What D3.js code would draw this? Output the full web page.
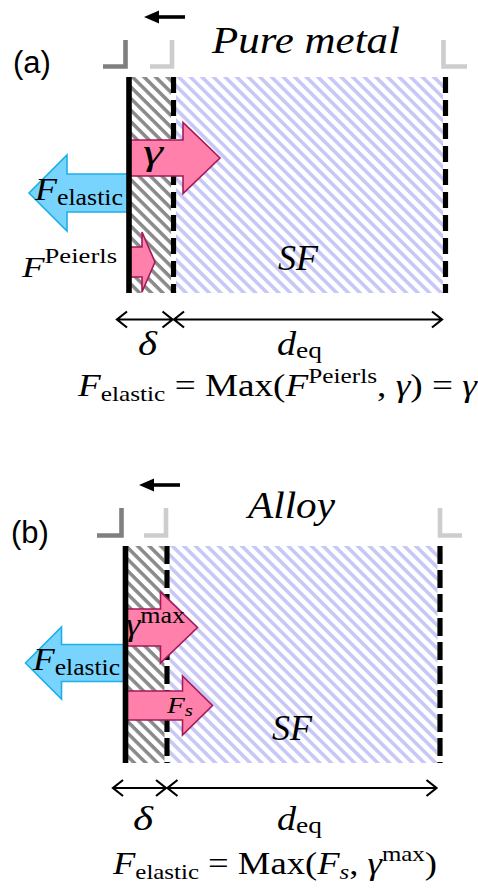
<!DOCTYPE html>
<html>
<head>
<meta charset="utf-8">
<script src="https://cdn.jsdelivr.net/npm/d3@7"></script>
<style>
  html, body { margin: 0; padding: 0; background: #fff; }
  svg { display: block; }
  text { white-space: pre; }
</style>
</head>
<body>
<script>
// ---- content -------------------------------------------------------------
const panelTags = ["(a)", "(b)"];
const panelTitles = ["Pure metal", "Alloy"];

// Forces on the leading partial, relative to the elastic restoring force
const elasticForce = [1.0, 1.0];
const drivingForces = [[0.91, 0.26], [0.72, 0.87]];
const drivingLabels = [
  [[["γ", "i"]], [["F", "i"], ["Peierls", "sup"]]],
  [[["γ", "i"], ["max", "sup"]], [["F", "i"], ["s", "subi"]]]
];
const elasticLabel = [["F", "i"], ["elastic", "sub"]];

// Ribbon segments: core width δ and equilibrium stacking-fault width d_eq (units of δ)
const deltaWidth = [1, 1];
const deqWidth = [6.11, 6.58];
const regionLabel = [["S", "i"], ["F", "i"]];
const deltaLabel = [["δ", "i"]];
const deqLabel = [["d", "i"], ["eq", "sub"]];

const formulas = [
  [["F", "i"], ["elastic", "sub"], [" = Max(", "r"], ["F", "i"], ["Peierls", "sup"], [", ", "r"], ["γ", "i"], [") = ", "r"], ["γ", "i"]],
  [["F", "i"], ["elastic", "sub"], [" = Max(", "r"], ["F", "i"], ["s", "subi"], [", ", "r"], ["γ", "i"], ["max", "sup"], [")", "r"]]
];

// ---- drawing ---------------------------------------------------------------
const W = 478, H = 889;
const SERIF = "'Liberation Serif', 'DejaVu Serif', serif";
const SANS = "'Liberation Sans', Arial, sans-serif";
const PINK = "#ff80aa", PINK_EDGE = "#a3195b";
const BLUE = "#78d4fd", BLUE_EDGE = "#1eaee8";

const svg = d3.select("body").append("svg").attr("width", W).attr("height", H);
const defs = svg.append("defs");

function hatch(id, color, period, stroke) {
  const p = defs.append("pattern").attr("id", id)
    .attr("patternUnits", "userSpaceOnUse")
    .attr("width", period).attr("height", period)
    .attr("patternTransform", "rotate(45)");
  p.append("rect").attr("width", period).attr("height", period).attr("fill", "#fff");
  p.append("rect").attr("y", 0).attr("width", period).attr("height", stroke).attr("fill", color);
}
hatch("hatchCore", "#8a8a8a", 8.2, 3.5);
hatch("hatchSF", "#c8c8f6", 8.2, 3.6);

function mathText(g, parts, o) {
  const t = g.append("text").attr("x", o.x).attr("y", o.y)
    .attr("font-family", SERIF).attr("font-size", o.size).attr("fill", "#000");
  let shift = 0;
  for (const [s, kind] of parts) {
    let target = 0;
    if (kind === "sub" || kind === "subi") target = o.size * (o.sub ?? 0.16);
    if (kind === "sup") target = -o.size * (o.sup ?? 0.46);
    const small = kind !== "i" && kind !== "r";
    t.append("tspan").attr("dy", target - shift)
      .attr("font-size", small ? o.size * (o.scr ?? 0.72) : o.size)
      .attr("font-style", kind === "i" || kind === "subi" ? "italic" : "normal")
      .text(s);
    shift = target;
  }
  if (o.width) t.attr("textLength", o.width).attr("lengthAdjust", "spacingAndGlyphs");
  if (o.anchor) t.attr("text-anchor", o.anchor);
  return t;
}

function blockArrow(x0, tip, cy, sh, hh, hl) {
  const dir = Math.sign(tip - x0);
  const hb = tip - dir * hl;
  const p = d3.path();
  p.moveTo(x0, cy - sh); p.lineTo(hb, cy - sh); p.lineTo(hb, cy - hh);
  p.lineTo(tip, cy); p.lineTo(hb, cy + hh); p.lineTo(hb, cy + sh);
  p.lineTo(x0, cy + sh); p.closePath();
  return p.toString();
}

function dimArrow(g, x0, x1, y) {
  const p = d3.path();
  p.moveTo(x0, y); p.lineTo(x1, y);
  p.moveTo(x0 + 10, y - 8); p.lineTo(x0, y); p.lineTo(x0 + 10, y + 8);
  p.moveTo(x1 - 10, y - 8); p.lineTo(x1, y); p.lineTo(x1 - 10, y + 8);
  g.append("path").attr("d", p.toString()).attr("fill", "none")
    .attr("stroke", "#000").attr("stroke-width", 2.2)
    .attr("stroke-linejoin", "miter").attr("stroke-linecap", "butt");
}

// Per-panel geometry
const layout = [
  {
    top: 77, bottom: 293, wall: 129, right: 445.5, dash: "16 7",
    tag: { x: 13, y: 73 }, title: { x: 212, y: 53, size: 38, w: 188 },
    moveY: 17, moveTip: 144, moveEnd: 185,
    marks: { y0: 40, y1: 66.5, dark: [103, 125.5], light: [150, 172], right: [443.5, 467] },
    forceScale: 100,
    drive: [
      { cy: 158, sh: 18, hh: 35.5, hl: 37, lab: { x: 143, y: 164, size: 36, w: 20 } },
      { cy: 262, sh: 15, hh: 30, hl: 13, lab: { x: 22, y: 277, size: 30, w: 95, sup: 0.47 } }
    ],
    elastic: { cy: 193, sh: 19, hh: 38, hl: 38, lab: { x: 35, y: 200, size: 32, w: 88, sub: 0.16 } },
    sf: { x: 278, y: 270, size: 36, w: 46 },
    dimY: 319.5, dimLeft: 117,
    delta: { x: 138, y: 355, size: 34, w: 19 },
    deq: { x: 277, y: 355, size: 33, w: 45 },
    formula: { x: 78, y: 396, size: 31, w: 399 }
  },
  {
    top: 546, bottom: 763, wall: 125.5, right: 440, dash: "18 6",
    tag: { x: 11, y: 543 }, title: { x: 248, y: 518, size: 37, w: 87 },
    moveY: 485, moveTip: 139, moveEnd: 180,
    marks: { y0: 508, y1: 535.5, dark: [97, 121.5], light: [144, 166], right: [440, 462] },
    forceScale: 100,
    drive: [
      { cy: 627.5, sh: 18.5, hh: 35.5, hl: 37, lab: { x: 126, y: 635, size: 32, w: 59, sup: 0.36 } },
      { cy: 705.5, sh: 14.5, hh: 29.5, hl: 30, lab: { x: 167, y: 713, size: 24, w: 26, sub: 0.13 } }
    ],
    elastic: { cy: 663, sh: 18.5, hh: 36, hl: 36, lab: { x: 33, y: 670, size: 32, w: 87, sub: 0.16 } },
    sf: { x: 272, y: 740, size: 36, w: 46 },
    dimY: 788, dimLeft: 113,
    delta: { x: 133, y: 830, size: 34, w: 20 },
    deq: { x: 277, y: 830, size: 33, w: 45 },
    formula: { x: 113, y: 874, size: 31, w: 324 }
  }
];

layout.forEach((L, i) => {
  const g = svg.append("g");

  // position along the ribbon: 0 = wall, δ = end of core, δ + d_eq = far partial
  const x = d3.scaleLinear().domain([0, deltaWidth[i] + deqWidth[i]]).range([L.wall, L.right]);
  const xCore = x(deltaWidth[i]);
  const xFar = x(deltaWidth[i] + deqWidth[i]);
  const f = d3.scaleLinear().domain([0, 1]).range([0, L.forceScale]);

  // panel tag and title
  g.append("text").attr("x", L.tag.x).attr("y", L.tag.y)
    .attr("font-family", SANS).attr("font-size", 31).text(panelTags[i]);
  g.append("text").attr("x", L.title.x).attr("y", L.title.y)
    .attr("font-family", SERIF).attr("font-style", "italic")
    .attr("font-size", L.title.size)
    .attr("textLength", L.title.w).attr("lengthAdjust", "spacingAndGlyphs")
    .text(panelTitles[i]);

  // direction of motion
  g.append("line").attr("x1", L.moveTip + 12).attr("x2", L.moveEnd)
    .attr("y1", L.moveY).attr("y2", L.moveY)
    .attr("stroke", "#000").attr("stroke-width", 3.6);
  g.append("path")
    .attr("d", `M${L.moveTip},${L.moveY}L${L.moveTip + 15},${L.moveY - 6.5}L${L.moveTip + 15},${L.moveY + 6.5}Z`)
    .attr("fill", "#000");

  // corner markers
  const M = L.marks;
  const mark = (d, c) => g.append("path").attr("d", d).attr("fill", "none")
    .attr("stroke", c).attr("stroke-width", 4.6).attr("stroke-linejoin", "miter");
  mark(`M${M.dark[0]},${M.y1}H${M.dark[1]}V${M.y0}`, "#7f7f7f");
  mark(`M${M.light[0]},${M.y1}H${M.light[1]}V${M.y0}`, "#cdcdcd");
  mark(`M${M.right[0]},${M.y0}V${M.y1}H${M.right[1]}`, "#cdcdcd");

  // hatched core and stacking fault
  g.append("rect").attr("x", L.wall).attr("y", L.top)
    .attr("width", xCore - 2.5 - L.wall).attr("height", L.bottom - L.top)
    .attr("fill", "url(#hatchCore)");
  g.append("rect").attr("x", xCore + 2.5).attr("y", L.top)
    .attr("width", xFar - 2.5 - xCore - 2.5).attr("height", L.bottom - L.top)
    .attr("fill", "url(#hatchSF)");

  // partial boundaries (dashed)
  [xCore, xFar].forEach(xx => {
    g.append("line").attr("x1", xx).attr("x2", xx)
      .attr("y1", L.top).attr("y2", L.bottom)
      .attr("stroke", "#000").attr("stroke-width", 5.2)
      .attr("stroke-dasharray", L.dash);
  });

  mathText(g, regionLabel, { x: L.sf.x, y: L.sf.y, size: L.sf.size, w: L.sf.w });

  // elastic force (to the left)
  const E = L.elastic;
  g.append("path")
    .attr("d", blockArrow(L.wall, L.wall - f(elasticForce[i]), E.cy, E.sh, E.hh, E.hl))
    .attr("fill", BLUE).attr("stroke", BLUE_EDGE).attr("stroke-width", 1.6)
    .attr("stroke-linejoin", "miter");
  mathText(g, elasticLabel, { x: E.lab.x, y: E.lab.y, size: E.lab.size, width: E.lab.w, sub: E.lab.sub });

  // driving forces (to the right)
  L.drive.forEach((D, k) => {
    g.append("path")
      .attr("d", blockArrow(L.wall, L.wall + f(drivingForces[i][k]), D.cy, D.sh, D.hh, D.hl))
      .attr("fill", PINK).attr("stroke", PINK_EDGE).attr("stroke-width", 1.6)
      .attr("stroke-linejoin", "miter");
  });
  L.drive.forEach((D, k) => {
    mathText(g, drivingLabels[i][k], {
      x: D.lab.x, y: D.lab.y, size: D.lab.size, width: D.lab.w,
      sup: D.lab.sup, sub: D.lab.sub
    });
  });

  // the moving partial (solid wall)
  g.append("line").attr("x1", L.wall).attr("x2", L.wall)
    .attr("y1", L.top).attr("y2", L.bottom)
    .attr("stroke", "#000").attr("stroke-width", 5.6);

  // widths
  dimArrow(g, L.dimLeft, xCore - 1, L.dimY);
  dimArrow(g, xCore + 0.5, xFar - 3.5, L.dimY);
  mathText(g, deltaLabel, { x: L.delta.x, y: L.delta.y, size: L.delta.size, width: L.delta.w });
  mathText(g, deqLabel, { x: L.deq.x, y: L.deq.y, size: L.deq.size, width: L.deq.w, sub: 0.09 });

  // force balance
  mathText(g, formulas[i], {
    x: L.formula.x, y: L.formula.y, size: L.formula.size, width: L.formula.w,
    sub: 0.15, sup: 0.43, scr: 0.68
  });
});
</script>
</body>
</html>
